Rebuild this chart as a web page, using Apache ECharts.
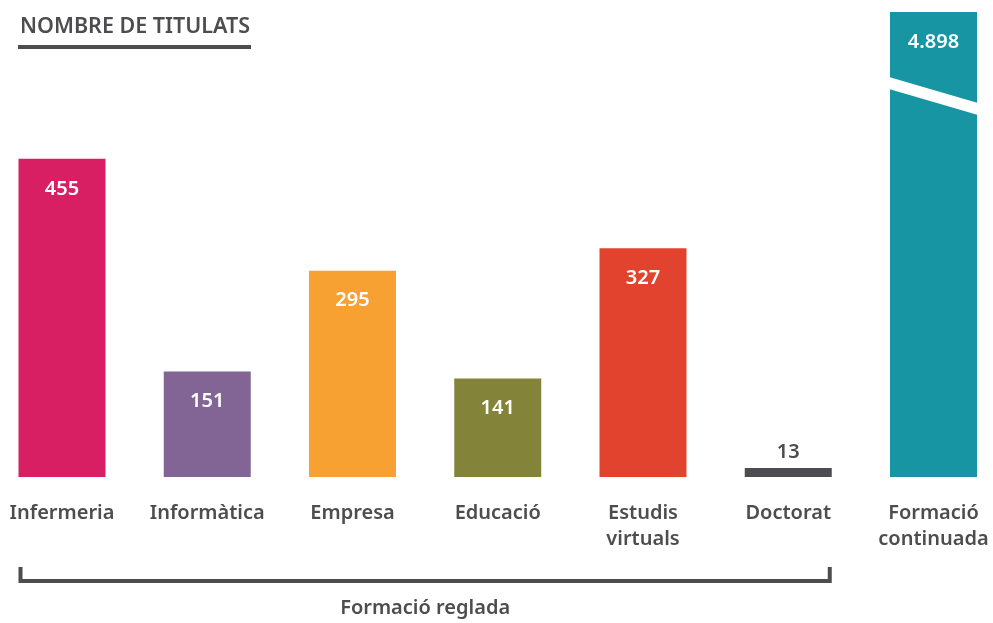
<!DOCTYPE html>
<html>
<head>
<meta charset="utf-8">
<script src="https://cdn.jsdelivr.net/npm/echarts@6/dist/echarts.min.js"></script>
<style>
  html, body { margin: 0; padding: 0; background: #fff; }
  #chart { width: 993px; height: 623px; }
</style>
</head>
<body>
<div id="chart"></div>
<script>
  var categories = ['Infermeria', 'Informàtica', 'Empresa', 'Educació', 'Estudis\nvirtuals', 'Doctorat', 'Formació\ncontinuada']
  var values = [455, 151, 295, 141, 327, 13, 4898]
  var barColors = ['#D91F64', '#826594', '#F7A133', '#83843A', '#E1432F', '#4D4D4F', '#1795A3']
  var titleText = 'NOMBRE DE TITULATS'
  var groupText = 'Formació reglada'
  var groupCount = 6

  var FONT = '"Noto Sans", "Open Sans", sans-serif'
  var GREY = '#4D4D4F'

  function fmt(v) {
    return String(v).replace(/\B(?=(\d{3})+(?!\d))/g, '.')
  }

  var chart = echarts.init(document.getElementById('chart'))

  var seriesData = values.map(function (v, i) {
    var outside = v < 40
    return {
      value: v,
      itemStyle: { color: barColors[i] },
      label: {
        position: outside ? 'top' : 'insideTop',
        distance: outside ? 6 : 20,
        color: outside ? GREY : '#fff'
      }
    }
  })

  chart.setOption({
    animation: false,
    title: {
      text: titleText,
      left: 15,
      top: 11,
      textStyle: { fontFamily: FONT, fontSize: 21.5, fontWeight: 600, color: GREY }
    },
    grid: { left: 62, right: 59.5, top: 12, bottom: 146 },
    xAxis: {
      type: 'category',
      data: categories,
      boundaryGap: false,
      axisLine: { show: false },
      axisTick: { show: false },
      axisLabel: {
        interval: 0,
        margin: 23,
        fontFamily: FONT,
        fontSize: 20,
        fontWeight: 600,
        lineHeight: 26,
        color: GREY
      }
    },
    yAxis: {
      type: 'value',
      min: 0,
      max: 665,
      show: false,
      splitLine: { show: false }
    },
    series: [{
      type: 'bar',
      barWidth: 87,
      clip: true,
      data: seriesData,
      label: {
        show: true,
        fontFamily: FONT,
        fontSize: 20,
        fontWeight: 600,
        formatter: function (p) { return fmt(p.value) }
      }
    }]
  })

  // decoration: title underline, broken bar, bracket under "formació reglada"
  var half = 87 / 2
  var firstX = chart.convertToPixel({ xAxisIndex: 0 }, 0)
  var lastGroupX = chart.convertToPixel({ xAxisIndex: 0 }, groupCount - 1)
  var breakX = chart.convertToPixel({ xAxisIndex: 0 }, categories.length - 1)
  var bL = firstX - half + 2
  var bR = lastGroupX + half - 2

  chart.setOption({
    graphic: [
      { type: 'rect', shape: { x: 18, y: 45, width: 233, height: 4 }, style: { fill: GREY } },
      {
        type: 'polygon',
        shape: { points: [[breakX - half - 1, 77], [breakX + half + 1, 103], [breakX + half + 1, 115], [breakX - half - 1, 89]] },
        style: { fill: '#fff' },
        z: 100
      },
      {
        type: 'polyline',
        shape: { points: [[bL, 567], [bL, 581], [bR, 581], [bR, 567]] },
        style: { stroke: GREY, lineWidth: 4, fill: null }
      },
      {
        type: 'text',
        x: (bL + bR) / 2,
        y: 608,
        style: {
          text: groupText,
          align: 'center',
          verticalAlign: 'middle',
          fontFamily: FONT,
          fontSize: 20,
          fontWeight: 600,
          fill: GREY
        }
      }
    ]
  })
</script>
</body>
</html>
